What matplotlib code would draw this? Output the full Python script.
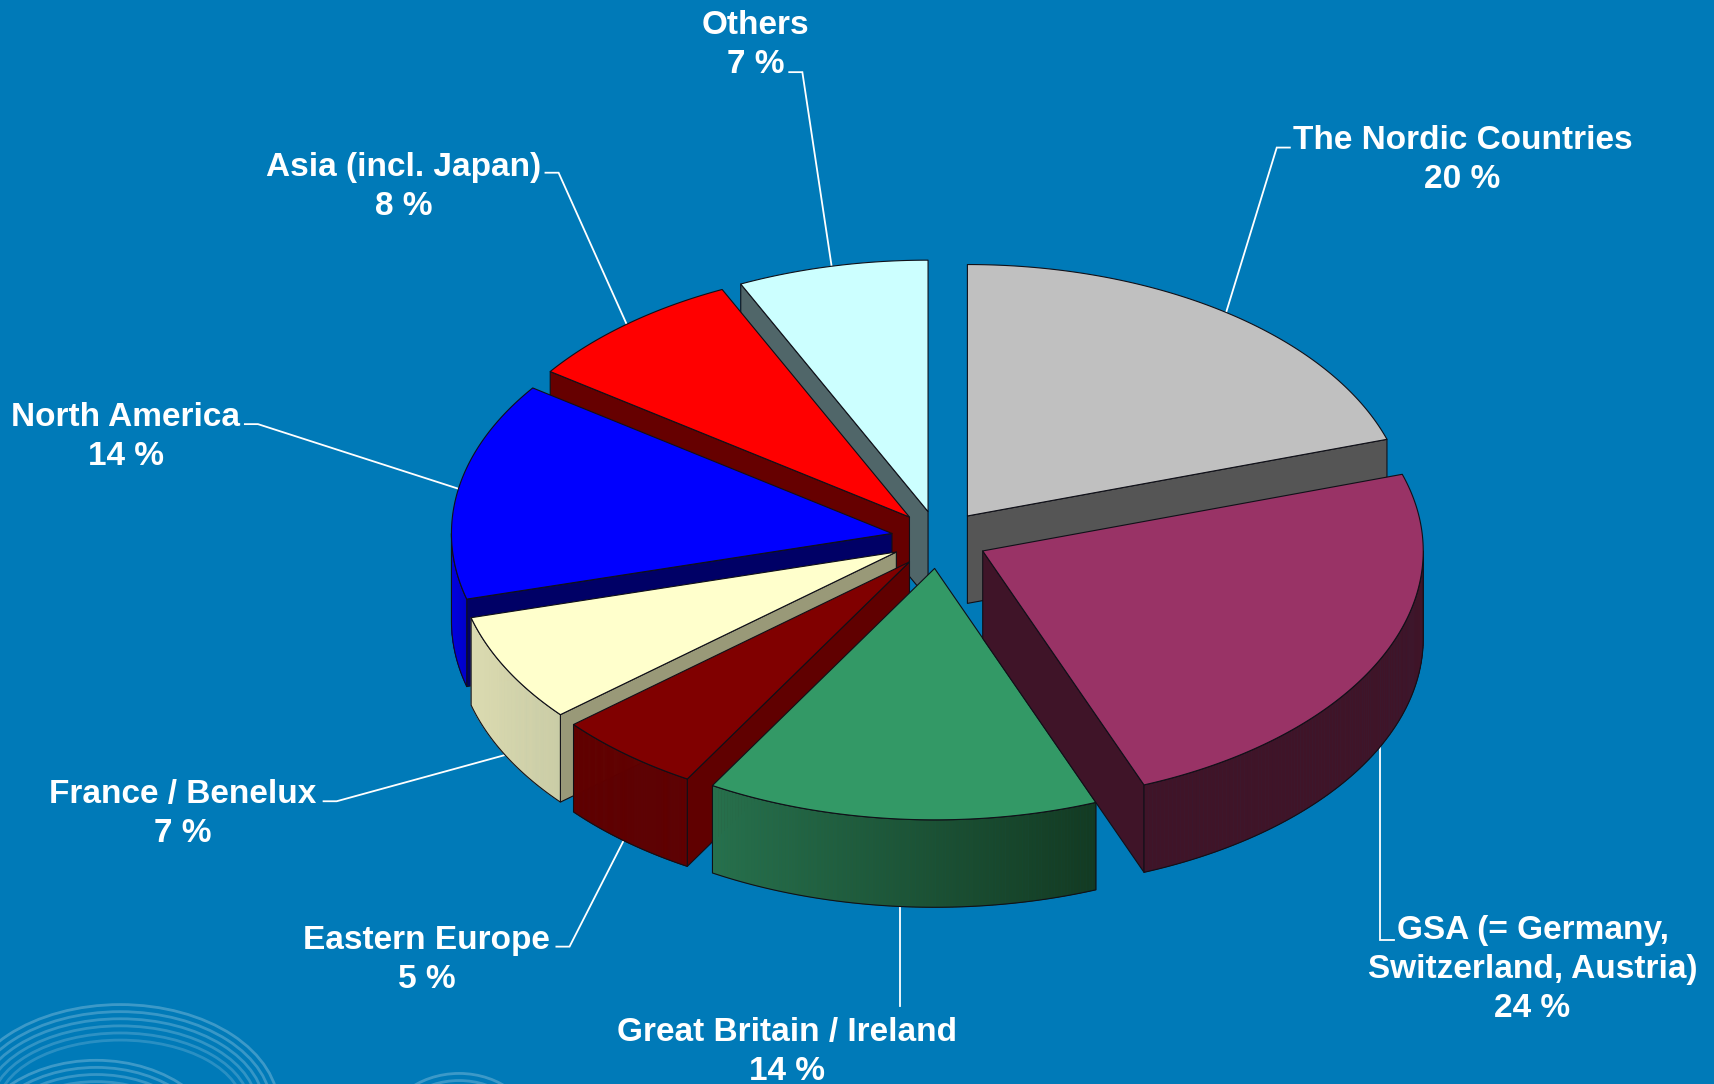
import numpy as np
import matplotlib
matplotlib.use("Agg")
import matplotlib.pyplot as plt
from matplotlib.patches import Polygon, Ellipse
from matplotlib.colors import to_rgb

categories = ["The Nordic Countries", "GSA (= Germany,\nSwitzerland, Austria)", "Great Britain / Ireland",
              "Eastern Europe", "France / Benelux", "North America", "Asia (incl. Japan)", "Others"]
values = [20.1, 24.0, 14.4, 5.4, 7.0, 14.05, 8.2, 7.0]

# --- styling / layout ---
BG = "#007ab8"
top_colors = ["#c0c0c0", "#993366", "#339966", "#800000", "#ffffcc", "#0000ff", "#ff0000", "#ccffff"]
wall_colors = ["#555555", "#3f1428", "#1a5030", "#600000", "#999978", "#000066", "#660000", "#506669"]
arc_from = ["#555555", "#3f1428", "#27704c", "#600000", "#dadab0", "#0000e0", "#660000", "#506669"]
arc_to = ["#555555", "#3f1428", "#133a22", "#600000", "#cfcfa6", "#0000c8", "#660000", "#506669"]
apex_x = [885, 899, 855, 832, 820, 816, 832, 849]
apex_y = [472, 504, 520, 514, 505, 488, 473, 468]
draw_order = [0, 7, 6, 5, 4, 3, 2, 1]
RX, RY, DEPTH = 403, 230, 80
SCALE = 1714 / 1568

fig = plt.figure(figsize=(17.14, 10.84), dpi=100, facecolor=BG)
ax = fig.add_axes([0, 0, 1, 1])
ax.set_xlim(0, 1714 / SCALE)
ax.set_ylim(1084 / SCALE, 0)
ax.axis("off")

# faint swirl decoration at the lower left
for cx, cy, rx0, ry0, n in [(110, 1014, 145, 95, 6), (88, 1062, 120, 92, 4), (420, 1040, 70, 58, 2)]:
    for i in range(n):
        ax.add_patch(Ellipse((cx, cy), 2 * (rx0 - 6.5 * i), 2 * (ry0 - 6.5 * i), fill=False,
                             ec="white", lw=2.0, alpha=0.24 - 0.015 * i, zorder=1))

fractions = np.array(values, dtype=float) / np.sum(values)
edges = np.concatenate([[0], np.cumsum(fractions)]) * 2 * np.pi
EDGE = dict(ec="#101018", lw=0.8, joinstyle="round")


def rim(i, lo=None, hi=None, n=120):
    a = edges[i] if lo is None else lo
    b = edges[i + 1] if hi is None else hi
    t = np.linspace(a, b, n)
    return apex_x[i] + RX * np.sin(t), apex_y[i] - RY * np.cos(t)


z = 5
for i in draw_order:
    x, y = rim(i)
    ax_, ay_ = apex_x[i], apex_y[i]
    # radial walls: only those facing the viewer
    if np.sin(edges[i]) < -1e-6:
        k = 0
        ax.add_patch(Polygon([(ax_, ay_), (x[k], y[k]), (x[k], y[k] + DEPTH), (ax_, ay_ + DEPTH)],
                             fc=wall_colors[i], zorder=z, **EDGE))
    if np.sin(edges[i + 1]) > 1e-6:
        k = -1
        ax.add_patch(Polygon([(ax_, ay_), (x[k], y[k]), (x[k], y[k] + DEPTH), (ax_, ay_ + DEPTH)],
                             fc=wall_colors[i], zorder=z, **EDGE))
    z += 1
    # outer curved side, front half only, with horizontal gradient
    lo, hi = max(edges[i], np.pi / 2), min(edges[i + 1], 3 * np.pi / 2)
    if hi > lo:
        xa, ya = rim(i, lo, hi)
        c0, c1 = np.array(to_rgb(arc_from[i])), np.array(to_rgb(arc_to[i]))
        xmin, xmax = xa.min(), xa.max()
        for j in range(len(xa) - 1):
            f = ((xa[j] + xa[j + 1]) / 2 - xmin) / max(xmax - xmin, 1)
            col = c0 + (c1 - c0) * f
            ax.add_patch(Polygon([(xa[j], ya[j]), (xa[j + 1], ya[j + 1]),
                                  (xa[j + 1], ya[j + 1] + DEPTH), (xa[j], ya[j] + DEPTH)],
                                 fc=col, ec=col, lw=0.5, zorder=z))
        z += 1
        outline = list(zip(xa, ya)) + list(zip(xa[::-1], ya[::-1] + DEPTH))
        ax.add_patch(Polygon(outline, fill=False, zorder=z, **EDGE))
        z += 1
    # top face
    ax.add_patch(Polygon([(ax_, ay_)] + list(zip(x, y)), fc=top_colors[i], zorder=z, **EDGE))
    z += 1

# leader lines
leaders = [
    [(1180, 135), (1168, 135), (1121, 288)],
    [(1275, 860), (1262, 860), (1262, 683)],
    [(823, 920), (823, 830)],
    [(509, 866), (521, 866), (570, 770)],
    [(296, 733), (308, 733), (461, 691)],
    [(224, 388), (236, 388), (419, 447)],
    [(499, 158), (511, 158), (573, 296)],
    [(722, 66), (734, 66), (761, 245)],
]
for pts in leaders:
    px, py = zip(*pts)
    ax.plot(px, py, color="white", lw=1.3, zorder=2, solid_joinstyle="miter")

# labels
label_x = [1338, 1402, 720, 390, 167, 115, 369, 691]
label_y = [146, 887, 962, 878, 744.5, 399.5, 171, 41]
for name, v, lx, ly in zip(categories, values, label_x, label_y):
    ax.text(lx, ly, f"{name}\n{round(v)} %", color="white", family="Liberation Sans", weight="bold",
            fontsize=24, ha="center", va="center", linespacing=1.33, zorder=200)

fig.savefig("out.png", dpi=100, facecolor=BG)
